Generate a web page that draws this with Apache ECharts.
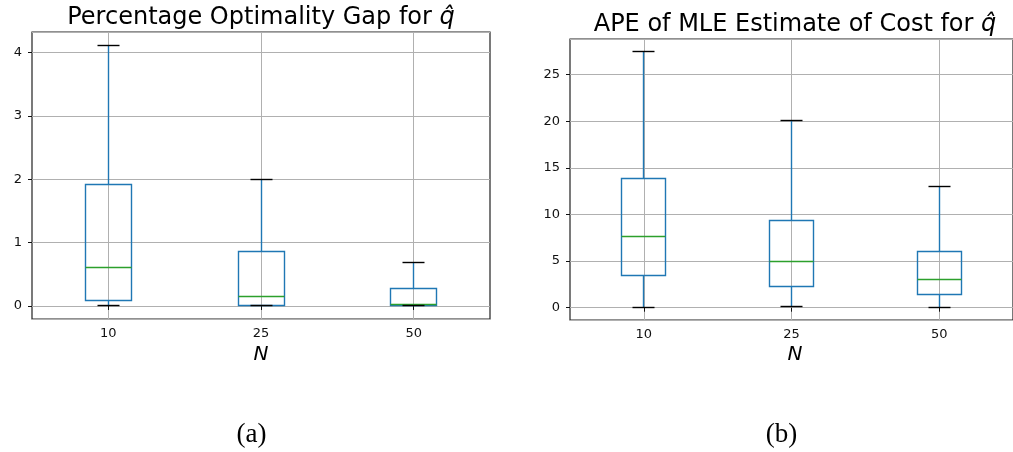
<!DOCTYPE html>
<html>
<head>
<meta charset="utf-8">
<script src="https://cdn.jsdelivr.net/npm/echarts@6/dist/echarts.min.js"></script>
<style>
html,body{margin:0;padding:0;background:#fff;}
#main{width:1013px;height:452px;}
</style>
</head>
<body>
<div id="main"></div>
<script>
// ---- data ----
const categories = ['10', '25', '50'];
// each row: [lower whisker, Q1, median, Q3, upper whisker]
const gapBoxes = [
  [0.00, 0.08, 0.60, 1.92, 4.12],
  [0.00, 0.00, 0.157, 0.867, 2.00],
  [0.005, 0.01, 0.025, 0.28, 0.69]
];
const apeBoxes = [
  [0.05, 3.48, 7.65, 13.81, 27.45],
  [0.12, 2.28, 4.95, 9.40, 20.03],
  [0.06, 1.42, 3.02, 6.05, 13.03]
];
const titleA = 'Percentage Optimality Gap for ';
const titleB = 'APE of MLE Estimate of Cost for ';
const xName = 'N';

function paddedRange(rows) {
  let lo = Infinity, hi = -Infinity;
  rows.forEach(r => r.forEach(v => { lo = Math.min(lo, v); hi = Math.max(hi, v); }));
  const pad = (hi - lo) * 0.05;
  return [lo - pad, hi + pad];
}
const rA = paddedRange(gapBoxes);
const rB = paddedRange(apeBoxes);

const FONT = 'DejaVu Sans';
const BLUE = '#1f77b4', GREEN = '#2ca02c', CAP = '#000';
const snap = v => Math.round(v - 0.5) + 0.5;

function renderBox(params, api) {
  const x = api.value(0);
  const vals = [1, 2, 3, 4, 5].map(i => api.value(i));
  const band = api.size([1, 0])[0];
  const bw = band * 0.3, cw = band * 0.15;
  const p = vals.map(v => api.coord([x, v]));
  const cx = snap(p[0][0]);
  const y = p.map(q => snap(q[1]));
  const bl = snap(cx - bw / 2), br = snap(cx + bw / 2);
  const ln = (x1, y1, x2, y2, c, w) => ({
    type: 'line',
    shape: { x1: x1, y1: y1, x2: x2, y2: y2 },
    style: { stroke: c, lineWidth: w || 1.4, fill: null }
  });
  return {
    type: 'group',
    children: [
      ln(cx, y[1], cx, y[0], BLUE),
      ln(cx, y[3], cx, y[4], BLUE),
      {
        type: 'rect',
        shape: { x: bl, y: y[3], width: br - bl, height: y[1] - y[3] },
        style: { stroke: BLUE, lineWidth: 1.4, fill: null }
      },
      ln(bl, y[2], br, y[2], GREEN, 1.4),
      ln(snap(cx - cw / 2), y[0], snap(cx + cw / 2), y[0], CAP, 1.4),
      ln(snap(cx - cw / 2), y[4], snap(cx + cw / 2), y[4], CAP, 1.4)
    ]
  };
}

function makeData(rows) {
  return rows.map((r, i) => [i].concat(r));
}

const axisLabelStyle = { color: '#111', fontFamily: FONT, fontSize: 13 };

function xAxisFor(gi) {
  return {
    type: 'category', gridIndex: gi, data: categories, boundaryGap: true,
    axisLine: { show: false },
    axisTick: { show: true, alignWithLabel: true, length: 4, lineStyle: { color: '#111', width: 1 } },
    axisLabel: Object.assign({ margin: 8 }, axisLabelStyle),
    splitLine: { show: true, alignWithLabel: true, lineStyle: { color: '#b0b0b0', width: 1 } }
  };
}
function yAxisFor(gi, r) {
  return {
    type: 'value', gridIndex: gi, min: r[0], max: r[1], splitNumber: 5,
    axisLine: { show: false },
    axisTick: { show: true, length: 4, lineStyle: { color: '#111', width: 1 } },
    axisLabel: Object.assign({ margin: 10, showMinLabel: false, showMaxLabel: false,
      formatter: v => String(Math.round(v)) }, axisLabelStyle),
    splitLine: { show: true, lineStyle: { color: '#b0b0b0', width: 1 } }
  };
}

const chart = echarts.init(document.getElementById('main'), null, { renderer: 'canvas' });
chart.setOption({
  animation: false,
  backgroundColor: '#fff',
  grid: [
    { left: 32, right: 523, top: 32, bottom: 133, show: true, borderColor: '#222', borderWidth: 1.2, backgroundColor: 'transparent' },
    { left: 570, right: -8, top: 39, bottom: 132, show: true, borderColor: '#222', borderWidth: 1.2, backgroundColor: 'transparent' }
  ],
  xAxis: [xAxisFor(0), xAxisFor(1)],
  yAxis: [yAxisFor(0, rA), yAxisFor(1, rB)],
  series: [
    { type: 'custom', xAxisIndex: 0, yAxisIndex: 0, renderItem: renderBox, data: makeData(gapBoxes), encode: { x: 0, y: [1, 2, 3, 4, 5] }, z: 5 },
    { type: 'custom', xAxisIndex: 1, yAxisIndex: 1, renderItem: renderBox, data: makeData(apeBoxes), encode: { x: 0, y: [1, 2, 3, 4, 5] }, z: 5 }
  ],
  graphic: [
    { type: 'text', x: 261, y: 18, style: { text: titleA + '{q|q\u0302}', rich: { q: { fontStyle: 'italic', fontFamily: FONT, fontSize: 24, fill: '#000' } }, fontFamily: FONT, fontSize: 24, fill: '#000', align: 'center', verticalAlign: 'middle' } },
    { type: 'text', x: 795, y: 24.5, style: { text: titleB + '{q|q\u0302}', rich: { q: { fontStyle: 'italic', fontFamily: FONT, fontSize: 24, fill: '#000' } }, fontFamily: FONT, fontSize: 24, fill: '#000', align: 'center', verticalAlign: 'middle' } },
    { type: 'text', x: 261, y: 355, style: { text: xName, fontFamily: FONT, fontStyle: 'italic', fontSize: 20, fill: '#000', align: 'center', verticalAlign: 'middle' } },
    { type: 'text', x: 795, y: 355, style: { text: xName, fontFamily: FONT, fontStyle: 'italic', fontSize: 20, fill: '#000', align: 'center', verticalAlign: 'middle' } },
    { type: 'text', x: 251.5, y: 435, style: { text: '(a)', fontFamily: 'Liberation Serif', fontSize: 27, fill: '#000', align: 'center', verticalAlign: 'middle' } },
    { type: 'text', x: 781.5, y: 435, style: { text: '(b)', fontFamily: 'Liberation Serif', fontSize: 27, fill: '#000', align: 'center', verticalAlign: 'middle' } }
  ]
});
</script>
</body>
</html>
